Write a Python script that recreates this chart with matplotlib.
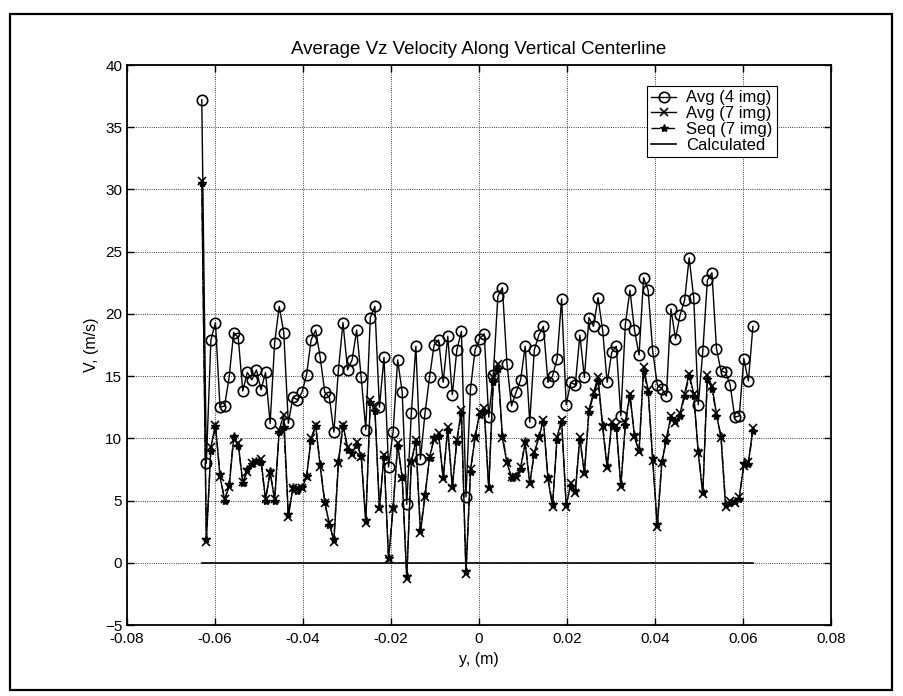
import numpy as np
import matplotlib
matplotlib.use("Agg")
import matplotlib.pyplot as plt
from matplotlib.patches import Rectangle
from matplotlib.ticker import FixedLocator, FuncFormatter

plt.rcParams['font.family'] = ['Liberation Sans', 'DejaVu Sans']

# values (m/s)
avg4 = [37.2, 8.0, 17.9, 19.3, 12.5, 12.6, 14.9, 18.5, 18.1, 13.8,
        15.3, 14.7, 15.5, 13.9, 15.3, 11.2, 17.7, 20.6, 18.5, 11.2,
        13.3, 13.1, 13.7, 15.1, 17.9, 18.7, 16.5, 13.7, 13.3, 10.5,
        15.5, 19.3, 15.5, 16.3, 18.7, 14.9, 10.7, 19.7, 20.6, 12.5,
        16.5, 7.7, 10.5, 16.3, 13.7, 4.7, 12.0, 17.4, 8.3, 12.0,
        14.9, 17.5, 17.9, 14.5, 18.2, 13.5, 17.1, 18.6, 5.3, 14.0,
        17.1, 18.0, 18.4, 11.7, 15.1, 21.4, 22.1, 16.0, 12.6, 13.7,
        14.7, 17.4, 11.3, 17.1, 18.3, 19.0, 14.5, 15.0, 16.4, 21.2,
        12.7, 14.5, 14.3, 18.3, 14.9, 19.7, 19.0, 21.3, 18.7, 14.5,
        16.9, 17.4, 11.8, 19.2, 21.9, 18.7, 16.7, 22.9, 21.9, 17.0,
        14.3, 14.0, 13.4, 20.4, 18.0, 19.9, 21.1, 24.5, 21.3, 12.7,
        17.0, 22.7, 23.3, 17.2, 15.4, 15.3, 14.3, 11.7, 11.8, 16.4,
        14.6, 19.0]

avg7 = [30.7, 1.7, 9.3, 11.1, 6.9, 5.1, 6.1, 9.9, 9.6, 6.5,
        7.3, 8.0, 8.1, 8.3, 5.1, 7.2, 5.1, 10.7, 11.9, 3.7,
        6.0, 5.9, 6.0, 6.9, 10.0, 11.1, 7.7, 4.8, 3.2, 1.7,
        8.0, 11.1, 9.3, 8.7, 9.7, 8.5, 3.2, 13.1, 12.5, 4.3,
        8.7, 0.3, 4.3, 9.6, 6.8, -1.3, 8.0, 9.9, 2.4, 5.3,
        8.5, 9.9, 10.4, 6.7, 10.9, 6.0, 9.9, 12.3, -0.9, 7.5,
        10.0, 12.1, 12.4, 5.9, 14.9, 16.0, 10.0, 8.0, 6.9, 6.9,
        7.7, 9.6, 6.3, 8.9, 10.0, 11.5, 6.7, 4.5, 10.1, 11.5,
        4.5, 6.4, 5.6, 10.1, 7.1, 12.3, 13.7, 14.9, 10.9, 7.6,
        11.3, 11.0, 6.1, 11.3, 13.6, 10.1, 8.9, 15.7, 13.9, 8.2,
        2.9, 8.0, 10.0, 11.8, 11.2, 12.0, 13.6, 15.2, 13.6, 8.8,
        5.5, 15.1, 14.2, 12.0, 10.0, 4.5, 5.0, 4.8, 5.3, 7.8,
        8.1, 10.8]

seq7 = [30.5, 1.9, 9.0, 11.0, 7.1, 5.0, 6.3, 10.2, 9.4, 6.4,
        7.5, 7.9, 8.2, 8.1, 5.0, 7.4, 5.0, 10.5, 10.9, 3.9,
        6.1, 5.8, 6.1, 7.0, 9.8, 11.0, 7.9, 4.9, 3.0, 1.9,
        8.2, 11.0, 9.1, 8.8, 9.5, 8.6, 3.4, 12.9, 12.2, 4.5,
        8.5, 0.4, 4.5, 9.4, 6.9, -1.1, 8.2, 9.7, 2.6, 5.5,
        8.4, 10.1, 10.2, 6.9, 10.7, 6.2, 9.7, 12.0, -0.7, 7.3,
        10.2, 11.9, 12.2, 6.1, 14.5, 15.6, 10.2, 8.2, 6.8, 7.0,
        7.5, 9.8, 6.5, 8.7, 10.2, 11.3, 6.9, 4.7, 9.9, 11.3,
        4.7, 6.2, 5.8, 9.9, 7.3, 12.1, 13.5, 14.6, 11.1, 7.8,
        11.1, 10.8, 6.3, 11.1, 13.4, 10.3, 9.1, 15.4, 13.7, 8.4,
        3.1, 8.2, 9.8, 11.6, 11.4, 11.8, 13.4, 15.0, 13.4, 9.0,
        5.7, 14.8, 14.0, 11.8, 10.2, 4.7, 4.8, 5.0, 5.1, 8.0,
        7.9, 10.6]

y_pos = np.linspace(-0.063, 0.0623, len(avg4))
calculated = [0.0] * len(avg4)

x_ticks = [-0.08, -0.06, -0.04, -0.02, 0, 0.02, 0.04, 0.06, 0.08]
y_ticks = [-5, 0, 5, 10, 15, 20, 25, 30, 35, 40]

fig = plt.figure(figsize=(9.04, 6.96), dpi=100)
ax = fig.add_axes([0.1405, 0.102, 0.7785, 0.8046])

ax.plot(y_pos, avg4, color='black', lw=1.0, marker='o', ms=7.5,
        mfc='none', mec='black', mew=1.2, label='Avg (4 img)')
ax.plot(y_pos, avg7, color='black', lw=1.0, marker='x', ms=6,
        mew=1.2, label='Avg (7 img)')
ax.plot(y_pos, seq7, color='black', lw=1.0, ls='-.', marker='*', ms=6,
        label='Seq (7 img)')
ax.plot(y_pos, calculated, color='black', lw=1.2, label='Calculated')

ax.set_xlim(-0.08, 0.08)
ax.set_ylim(-5, 40)
ax.xaxis.set_major_locator(FixedLocator(x_ticks))
ax.yaxis.set_major_locator(FixedLocator(y_ticks))
ax.xaxis.set_major_formatter(FuncFormatter(lambda v, p: '0' if abs(v) < 1e-9 else f'{v:g}'))
ax.tick_params(direction='in', labelsize=11, length=5, width=1.0, top=True, right=True)
ax.tick_params(axis='x', pad=5)
for s in ax.spines.values():
    s.set_linewidth(1.3)
ax.grid(True, color='black', ls=':', lw=0.6)

ax.set_title('Average Vz Velocity Along Vertical Centerline', fontsize=13.5, pad=8)
ax.set_xlabel('y, (m)', fontsize=11.5)
ax.set_ylabel('V, (m/s)', fontsize=11.5)

leg = ax.legend(loc='upper right', bbox_to_anchor=(0.923, 0.962), fontsize=12,
                fancybox=False, edgecolor='black', framealpha=1, handlelength=1.5,
                borderpad=0.25, labelspacing=0.05, handletextpad=0.6,
                borderaxespad=0)
leg.get_frame().set_linewidth(0.8)

fig.patches.append(Rectangle((0.011, 0.009), 0.976, 0.971, transform=fig.transFigure,
                             fill=False, edgecolor='black', lw=1.6))

fig.savefig('out.png', dpi=100)
